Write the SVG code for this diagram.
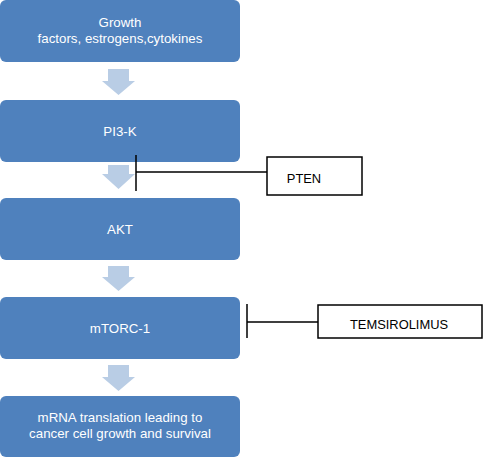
<svg xmlns="http://www.w3.org/2000/svg" width="487" height="458" viewBox="0 0 487 458">
<style>
.box{fill:#4f81bd;}
.t{fill:#fff;font-family:"Liberation Sans",Arial,sans-serif;font-size:13.3px;text-anchor:middle;}
.arr{fill:#b9cde5;}
.ln{stroke:#000;stroke-width:1.5;fill:none;}
.wb{fill:#fff;stroke:#000;stroke-width:1.5;}
.bt{fill:#000;font-family:"Liberation Sans",Arial,sans-serif;font-size:12.9px;text-anchor:middle;}
</style>
<rect width="487" height="458" fill="#fff"/>
<g id="n1"><rect class="box" x="0" y="0" width="240" height="62" rx="6"/><text class="t" x="120" y="27">Growth</text><text class="t" x="120" y="43">factors, estrogens,cytokines</text></g>
<g id="n2"><rect class="box" x="0" y="100" width="240" height="62" rx="6"/><text class="t" x="120" y="136">PI3-K</text></g>
<g id="n3"><rect class="box" x="0" y="198" width="240" height="62" rx="6"/><text class="t" x="120" y="234">AKT</text></g>
<g id="n4"><rect class="box" x="0" y="297" width="240" height="62" rx="6"/><text class="t" x="120" y="333">mTORC-1</text></g>
<g id="n5"><rect class="box" x="0" y="396" width="240" height="61" rx="6"/><text class="t" x="120" y="422">mRNA translation leading to</text><text class="t" x="120" y="438">cancer cell growth and survival</text></g>
<g id="pten"><rect class="wb" x="267" y="157" width="95" height="38"/><text class="bt" x="304" y="183">PTEN</text></g>
<g id="tems"><rect class="wb" x="318" y="305" width="164" height="33"/><text class="bt" x="399" y="329">TEMSIROLIMUS</text></g>
<g id="connectors">
<path class="arr" d="M108,69 H129 V81 H135 L118.5,95 L102,81 H108 Z"/>
<path class="arr" d="M108,165 H129 V174 H135 L118.5,189 L102,174 H108 Z"/>
<path class="arr" d="M108,266 H129 V277 H135 L118.5,291 L102,277 H108 Z"/>
<path class="arr" d="M108,365 H129 V377 H135 L118.5,391 L102,377 H108 Z"/>
<path class="ln" d="M136,155 V191 M136,172 H267"/>
<path class="ln" d="M247,304 V338 M247,322 H318"/>
</g>
</svg>
